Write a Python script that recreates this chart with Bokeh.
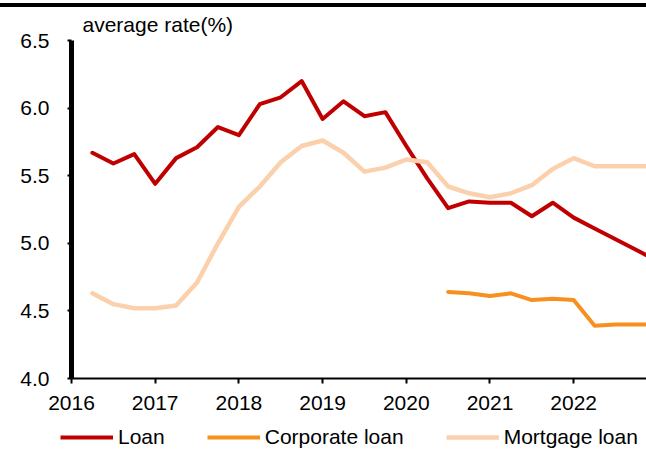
from bokeh.plotting import figure
from bokeh.models import (Range1d, FixedTicker, Legend, LegendItem, Div, Title,
                          CustomJSTickFormatter)
from bokeh.layouts import column
from bokeh.embed import file_html
from bokeh.resources import INLINE

# ---- data ----
quarters = [2016.25, 2016.5, 2016.75, 2017.0, 2017.25, 2017.5, 2017.75, 2018.0,
            2018.25, 2018.5, 2018.75, 2019.0, 2019.25, 2019.5, 2019.75, 2020.0,
            2020.25, 2020.5, 2020.75, 2021.0, 2021.25, 2021.5, 2021.75, 2022.0,
            2022.25, 2022.5, 2022.75, 2023.0]
loan = [5.67, 5.59, 5.66, 5.44, 5.63, 5.71, 5.86, 5.80,
        6.03, 6.08, 6.20, 5.92, 6.05, 5.94, 5.97, 5.72,
        5.48, 5.26, 5.31, 5.30, 5.30, 5.20, 5.30, 5.19,
        5.11, 5.03, 4.95, 4.87]
mortgage_loan = [4.63, 4.55, 4.52, 4.52, 4.54, 4.71, 5.00, 5.27,
                 5.42, 5.60, 5.72, 5.76, 5.67, 5.53, 5.56, 5.62,
                 5.60, 5.42, 5.37, 5.34, 5.37, 5.43, 5.55, 5.63,
                 5.57, 5.57, 5.57, 5.57]
corp_quarters = [2020.5, 2020.75, 2021.0, 2021.25, 2021.5, 2021.75, 2022.0,
                 2022.25, 2022.5, 2022.75, 2023.0]
corporate_loan = [4.64, 4.63, 4.61, 4.63, 4.58, 4.59, 4.58,
                  4.39, 4.40, 4.40, 4.40]
year_ticks = [2016, 2017, 2018, 2019, 2020, 2021, 2022]
rate_ticks = [4.0, 4.5, 5.0, 5.5, 6.0, 6.5]
series_names = ["Loan", "Corporate loan", "Mortgage loan"]
y_title = "average rate(%)"

FONT = "Liberation Sans"
FS = "21px"
COLORS = ["#C00000", "#F7901E", "#FBD0AC"]
WIDTHS = [4, 4, 4.5]

title = Title(text=y_title, align="left", offset=11, standoff=7,
              vertical_align="middle",
              text_font=FONT, text_font_size=FS, text_font_style="normal",
              text_color="black")

p = figure(width=646, height=413, output_backend="svg", toolbar_location=None,
           x_range=Range1d(2016, 2022.87), y_range=Range1d(4.0, 6.5),
           min_border_left=71, min_border_right=0, min_border_top=33,
           min_border_bottom=42, background_fill_color="white",
           border_fill_color="white", outline_line_color=None, title=title)
p.grid.visible = False
p.frame_align = False

p.line(quarters, loan, line_color=COLORS[0], line_width=WIDTHS[0],
       line_join="round", line_cap="round")
p.line(corp_quarters, corporate_loan, line_color=COLORS[1], line_width=WIDTHS[1],
       line_join="round", line_cap="round")
p.line(quarters, mortgage_loan, line_color=COLORS[2], line_width=WIDTHS[2],
       line_join="round", line_cap="round")

# axes
xa = p.xaxis[0]
xa.ticker = FixedTicker(ticks=year_ticks)
xa.minor_tick_line_color = None
xa.axis_line_width = 2
xa.axis_line_color = "black"
xa.major_tick_line_width = 2
xa.major_tick_in = 0
xa.major_tick_out = 5
xa.major_label_text_font = FONT
xa.major_label_text_font_size = FS
xa.major_label_text_color = "black"
xa.major_label_standoff = 12

ya = p.yaxis[0]
ya.ticker = FixedTicker(ticks=rate_ticks)
ya.formatter = CustomJSTickFormatter(code="return tick.toFixed(1);")
ya.minor_tick_line_color = None
ya.axis_line_width = 5
ya.axis_line_color = "black"
ya.major_tick_line_width = 2
ya.major_tick_in = 0
ya.major_tick_out = 4
ya.major_label_text_font = FONT
ya.major_label_text_font_size = FS
ya.major_label_text_color = "black"
ya.major_label_standoff = 18

# legend strip (separate figure, the series are drawn out of view there)
lg = figure(width=646, height=30, output_backend="svg", toolbar_location=None,
            x_range=Range1d(0, 1), y_range=Range1d(0, 1),
            x_axis_location=None, y_axis_location=None,
            min_border=0, outline_line_color=None, background_fill_color="white",
            border_fill_color="white")
lg.grid.visible = False
lg.frame_align = False
l1 = lg.line(quarters, loan, line_color=COLORS[0], line_width=WIDTHS[0])
l2 = lg.line(corp_quarters, corporate_loan, line_color=COLORS[1], line_width=WIDTHS[1])
l3 = lg.line(quarters, mortgage_loan, line_color=COLORS[2], line_width=WIDTHS[2])

legend = Legend(items=[LegendItem(label=series_names[0], renderers=[l1]),
                       LegendItem(label=series_names[1], renderers=[l2]),
                       LegendItem(label=series_names[2], renderers=[l3])],
                location=(60, 1), orientation="horizontal",
                glyph_width=53, glyph_height=20, label_standoff=5, spacing=42,
                padding=0, margin=0, border_line_color=None,
                background_fill_alpha=0, label_text_font=FONT,
                label_text_font_size=FS, label_text_color="black")
lg.add_layout(legend)

top_bar = Div(text="", width=646, height=4, margin=(3, 0, 0, 0),
              styles={"background-color": "black"})
layout = column(top_bar, p, lg, spacing=0)

open("out.html", "w").write(file_html(layout, INLINE))
